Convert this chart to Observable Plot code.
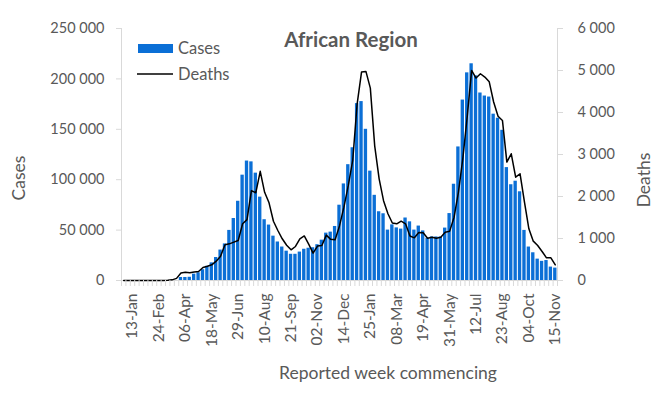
<!DOCTYPE html>
<html><head><meta charset="utf-8">
<script src="https://cdn.jsdelivr.net/npm/d3@7"></script>
<script src="https://cdn.jsdelivr.net/npm/@observablehq/plot@0.6"></script>
<style>
body{margin:0;background:#fff;}
#chart{width:658px;height:393px;}
</style>
</head><body><div id="chart"></div>
<script>
// Weekly categories (week commencing, Monday), 30-Dec-2019 .. 15-Nov-2021
const firstWeek = "2019-12-30";
const lastWeek = "2021-11-15";
const tickLabels = ["13-Jan","24-Feb","06-Apr","18-May","29-Jun","10-Aug","21-Sep","02-Nov","14-Dec","25-Jan","08-Mar","19-Apr","31-May","12-Jul","23-Aug","04-Oct","15-Nov"];
const caseTickValues = [0, 50000, 100000, 150000, 200000, 250000];
const deathTickValues = [0, 1000, 2000, 3000, 4000, 5000, 6000];

// Weekly cases (left axis)
const cases = [
0,0,0,0,0,0,0,0,0,0,
0,0,0,
3000,3000,3200,6300,7700,10700,14100,17500,22800,30200,
36300,49700,61500,78600,104500,118500,117700,106500,82700,60300,
55000,44000,38200,33200,29100,26000,26000,28200,31000,32000,
32500,35500,40000,47000,48000,53600,74700,95800,114900,131700,
175500,177500,150000,108500,84500,68200,66200,50000,55200,52200,
51000,62000,58200,50000,54000,49200,42000,43200,43200,43200,
52000,66400,95500,132500,179000,206000,215000,203000,186000,183000,
182000,165000,161000,149000,112000,95000,98500,88000,49700,33200,
27500,21200,19000,19800,13300,12300
];
// Weekly deaths (right axis)
const deaths = [
0,0,0,0,0,0,0,0,0,0,
5,15,50,
180,195,185,205,214,310,340,373,460,580,
850,873,913,953,1350,1450,2140,2090,2600,2100,
1850,1410,1190,993,840,730,810,993,1060,865,
650,820,834,1080,980,969,1300,1747,2263,2858,
4200,4962,4978,4580,3200,2420,1900,1590,1370,1350,
1413,1350,1060,1016,1143,1135,1008,1032,1008,1032,
1151,1170,1500,2100,2900,3900,5002,4820,4923,4843,
4730,4250,3910,3811,2819,3017,2461,2541,1866,1231,
937,834,691,540,540,373
];

const BLUE = "#0b6fd6", TEXT = "#595959", AXIS = "#d9d9d9";
const FONT = "Lato, 'Open Sans', sans-serif";
const weeks = d3.utcMonday.range(new Date(firstWeek), d3.utcDay.offset(new Date(lastWeek), 1));
const n = weeks.length;
const idx = d3.range(n);
const fmtDate = d3.utcFormat("%d-%b");
const labelSet = new Set(tickLabels);
const labelIdx = idx.filter(i => labelSet.has(fmtDate(weeks[i])));
const caseMax = 250000, deathMax = 6000, ratio = caseMax / deathMax;
const fmt = d => d3.format(",")(d).replace(/,/g, " ");

const chart = Plot.plot({
  width: 658, height: 393,
  marginLeft: 121, marginRight: 101, marginTop: 28, marginBottom: 113,
  x: {type: "linear", domain: [0, n], axis: null},
  y: {domain: [0, caseMax], axis: null},
  style: {fontFamily: FONT, fontSize: "14.5px", color: TEXT, background: "white", overflow: "visible"},
  marks: [
    Plot.rect(idx, {x1: i => i + 0.12, x2: i => i + 0.88, y1: 0, y2: i => cases[i], fill: BLUE}),
    Plot.ruleY([0], {stroke: AXIS}),
    Plot.ruleX([0, n], {stroke: AXIS}),
    Plot.lineY(idx, {x: i => i + 0.5, y: i => deaths[i] * ratio, stroke: "black", strokeWidth: 1.5}),
    Plot.axisY({anchor: "left", ticks: caseTickValues, tickSize: 5, tickPadding: 12, tickFormat: fmt, stroke: AXIS, fill: TEXT, label: null}),
    Plot.axisY({anchor: "right", ticks: deathTickValues.map(d => d * ratio), tickSize: 5, tickPadding: 15,
      tickFormat: d => fmt(Math.round(d / ratio)), stroke: AXIS, fill: TEXT, label: null}),
    Plot.axisX({ticks: d3.range(n + 1), tickSize: 6, tickFormat: () => "", stroke: AXIS, label: null}),
    Plot.axisX({ticks: labelIdx.map(i => i + 0.5), tickSize: 0, tickPadding: 13, tickRotate: -90, fontSize: 15.5,
      tickFormat: d => fmtDate(weeks[Math.floor(d)]), fill: TEXT, label: null})
  ]
});

const svg = d3.select(chart);
const add = (txt, x, y, opts = {}) => {
  const t = svg.append("text").attr("x", x).attr("y", y).attr("fill", TEXT)
    .attr("font-family", FONT).attr("font-size", opts.size || 15)
    .attr("text-anchor", opts.anchor || "start").text(txt);
  if (opts.bold) t.attr("font-weight", "bold");
  if (opts.rotate) t.attr("transform", `rotate(-90 ${x} ${y})`);
  return t;
};
add("African Region", 351, 47, {size: 20.5, bold: true, anchor: "middle"});
// legend
svg.append("rect").attr("x", 138).attr("y", 44).attr("width", 35).attr("height", 9).attr("fill", BLUE);
add("Cases", 178, 53.5, {size: 16.5});
svg.append("line").attr("x1", 137).attr("x2", 173).attr("y1", 74).attr("y2", 74).attr("stroke", "black").attr("stroke-width", 1.5);
add("Deaths", 178, 79.5, {size: 16.5});
// axis titles
add("Cases", 25, 178, {size: 17.5, anchor: "middle", rotate: true});
add("Deaths", 650, 180, {size: 17.5, anchor: "middle", rotate: true});
add("Reported week commencing", 388, 379, {size: 17.5, anchor: "middle"});

document.getElementById("chart").appendChild(chart);
</script>
</body></html>
